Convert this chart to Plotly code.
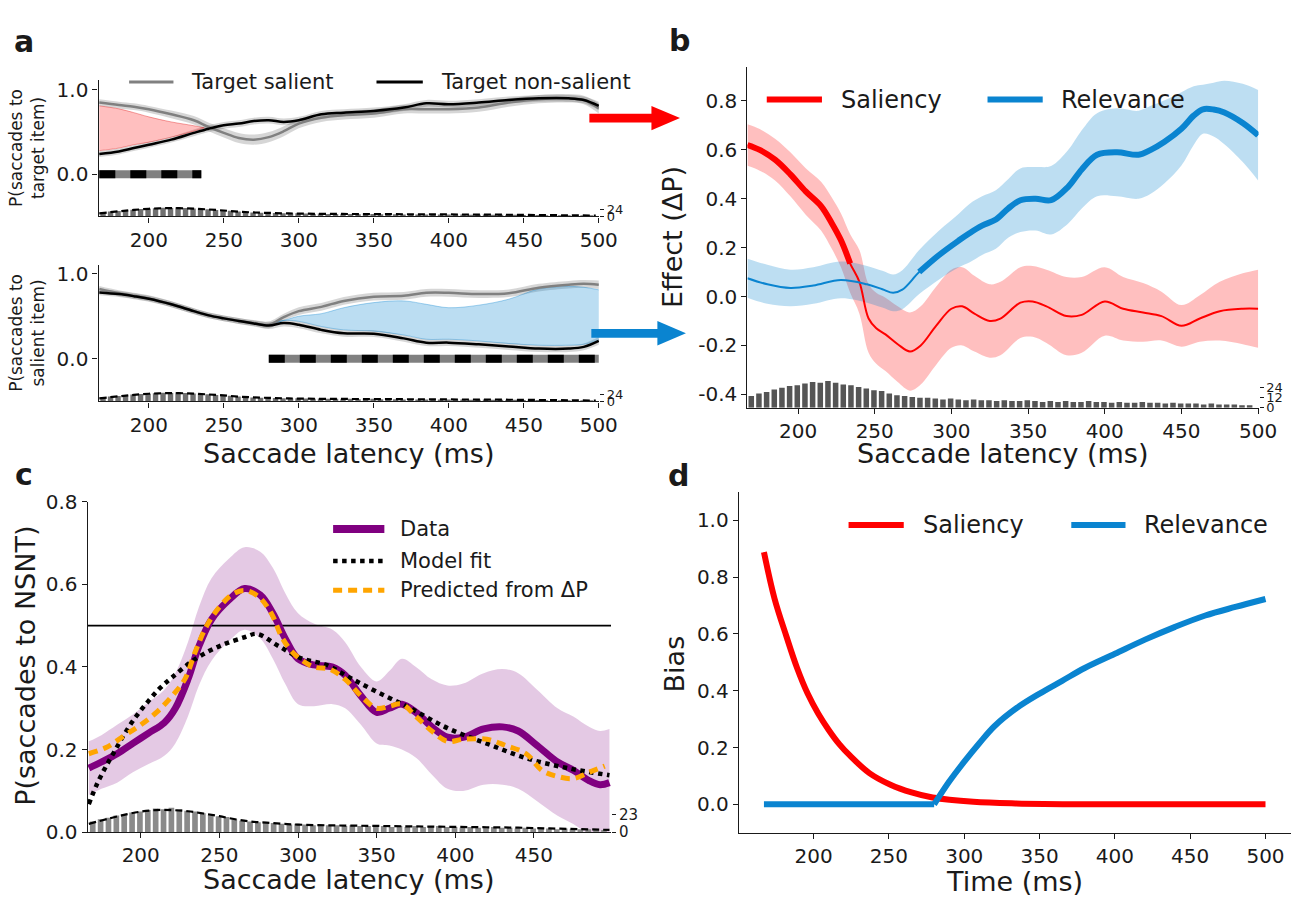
import plotly.graph_objects as go

W, H = 1315, 908
FONT = "DejaVu Sans"
INK = "#1a1a1a"
RED = "#ff0000"
BLUE = "#0a84d0"
PURPLE = "#800080"
ORANGE = "#ffa500"
GREY = "#808080"

# ---------------- Panel a data ----------------
a_x = [167, 180, 190, 200, 215, 230, 240, 250, 260, 270, 280, 290, 300, 315, 330, 350, 370, 385, 400, 420, 440, 460, 480, 490, 500]
a_top_salient = [0.85, 0.82, 0.80, 0.77, 0.71, 0.64, 0.56, 0.49, 0.43, 0.41, 0.44, 0.51, 0.60, 0.67, 0.70, 0.72, 0.77, 0.77, 0.77, 0.79, 0.85, 0.89, 0.90, 0.88, 0.78]
a_top_salient_ci = [0.04, 0.04, 0.04, 0.04, 0.045, 0.05, 0.05, 0.055, 0.06, 0.06, 0.06, 0.06, 0.055, 0.05, 0.05, 0.05, 0.05, 0.05, 0.05, 0.05, 0.05, 0.05, 0.05, 0.05, 0.06]
a_top_nonsal = [0.24, 0.27, 0.31, 0.35, 0.41, 0.49, 0.54, 0.58, 0.60, 0.63, 0.64, 0.62, 0.64, 0.71, 0.73, 0.75, 0.79, 0.84, 0.83, 0.85, 0.88, 0.90, 0.90, 0.88, 0.81]
a_top_nonsal_ci = [0.035, 0.035, 0.035, 0.035, 0.035, 0.04, 0.04, 0.04, 0.04, 0.04, 0.04, 0.04, 0.04, 0.04, 0.04, 0.04, 0.04, 0.04, 0.04, 0.04, 0.04, 0.04, 0.04, 0.04, 0.05]
a_top_fill_x = [167, 180, 190, 200, 215, 230, 237]
a_top_fill_hi = [0.81, 0.775, 0.73, 0.68, 0.62, 0.575, 0.55]
a_top_fill_lo = [0.28, 0.31, 0.35, 0.38, 0.44, 0.51, 0.55]
a_top_sig = [167, 235]

a_bot_salient = [0.82, 0.77, 0.74, 0.71, 0.64, 0.56, 0.51, 0.475, 0.445, 0.42, 0.40, 0.49, 0.56, 0.61, 0.68, 0.73, 0.74, 0.775, 0.775, 0.76, 0.77, 0.835, 0.87, 0.88, 0.87]
a_bot_salient_ci = [0.035, 0.035, 0.035, 0.035, 0.035, 0.035, 0.035, 0.035, 0.035, 0.035, 0.04, 0.04, 0.045, 0.045, 0.045, 0.045, 0.045, 0.045, 0.045, 0.045, 0.045, 0.045, 0.045, 0.045, 0.05]
a_bot_nonsal = [0.78, 0.76, 0.735, 0.705, 0.64, 0.56, 0.51, 0.475, 0.445, 0.415, 0.39, 0.42, 0.40, 0.34, 0.30, 0.295, 0.24, 0.19, 0.19, 0.17, 0.145, 0.12, 0.12, 0.14, 0.21]
a_bot_nonsal_ci = [0.035, 0.035, 0.035, 0.035, 0.035, 0.035, 0.035, 0.035, 0.035, 0.035, 0.04, 0.04, 0.04, 0.04, 0.04, 0.04, 0.04, 0.04, 0.04, 0.04, 0.04, 0.04, 0.04, 0.04, 0.045]
a_bot_fill_x = [280, 290, 300, 315, 330, 350, 370, 385, 400, 420, 440, 460, 480, 490, 500]
a_bot_fill_hi = [0.40, 0.45, 0.50, 0.53, 0.60, 0.66, 0.68, 0.64, 0.60, 0.63, 0.70, 0.82, 0.85, 0.84, 0.81]
a_bot_fill_lo = [0.40, 0.45, 0.44, 0.38, 0.34, 0.325, 0.28, 0.23, 0.23, 0.21, 0.18, 0.16, 0.16, 0.17, 0.22]
a_bot_sig = [280, 500]

# saccade latency histogram (5 ms bins from 167 ms) and its smoothed density
hist_start = 167
hist_bin = 5
hist_counts = [14, 17, 19, 22, 24, 26, 27, 29, 31, 30,
               32, 30, 28, 27, 25, 23, 21, 20, 17, 15,
               14, 13, 12, 12, 11, 10, 11, 10, 9, 10,
               9, 9, 8, 9, 8, 8, 9, 8, 7, 8,
               7, 8, 7, 7, 8, 7, 7, 6, 7, 6,
               6, 7, 6, 6, 5, 6, 5, 5, 5, 4,
               5, 4, 4, 4, 3, 3]
kde_x = [167, 180, 190, 200, 210, 220, 230, 240, 250, 260, 270, 280, 290, 300, 320, 340, 360, 380, 400, 420, 440, 460, 480, 498]
kde_y = [11, 18, 23, 27, 29, 29, 27.5, 24.5, 21, 17, 14, 12.5, 11, 10, 9, 8.5, 8, 7.5, 7, 6.5, 6, 5, 4, 3]

# ---------------- Panel b data ----------------
b_sal_x = [167, 175, 185, 195, 205, 215, 222, 228, 234, 240, 246, 251, 257, 265, 273, 280, 290, 300, 307, 315, 325, 332, 345, 353, 362, 375, 385, 400, 412, 425, 437, 450, 462, 475, 490, 500]
b_sal = [0.62, 0.60, 0.56, 0.50, 0.43, 0.37, 0.30, 0.23, 0.135, 0.06, -0.09, -0.13, -0.155, -0.195, -0.225, -0.20, -0.12, -0.05, -0.04, -0.07, -0.10, -0.09, -0.025, -0.02, -0.04, -0.08, -0.075, -0.02, -0.05, -0.065, -0.08, -0.12, -0.09, -0.06, -0.05, -0.05]
b_sal_ci = [0.085, 0.085, 0.085, 0.09, 0.095, 0.10, 0.105, 0.11, 0.12, 0.13, 0.14, 0.145, 0.15, 0.155, 0.16, 0.16, 0.16, 0.16, 0.16, 0.155, 0.15, 0.15, 0.145, 0.145, 0.15, 0.16, 0.155, 0.14, 0.13, 0.12, 0.10, 0.085, 0.095, 0.12, 0.145, 0.16]
b_sal_sig_end = 234
b_rel_x = [167, 180, 195, 210, 228, 245, 255, 262, 268, 279, 292, 305, 312, 320, 329, 337, 345, 355, 365, 376, 385, 395, 408, 422, 430, 439, 450, 458, 464, 471, 478, 490, 500]
b_rel = [0.075, 0.05, 0.035, 0.045, 0.068, 0.05, 0.03, 0.015, 0.028, 0.10, 0.17, 0.23, 0.26, 0.29, 0.315, 0.36, 0.394, 0.40, 0.394, 0.448, 0.52, 0.58, 0.59, 0.58, 0.60, 0.633, 0.686, 0.74, 0.766, 0.765, 0.753, 0.71, 0.66]
b_rel_ci = [0.08, 0.08, 0.075, 0.075, 0.075, 0.075, 0.075, 0.075, 0.08, 0.09, 0.10, 0.11, 0.12, 0.12, 0.12, 0.12, 0.13, 0.13, 0.14, 0.15, 0.16, 0.17, 0.18, 0.18, 0.18, 0.17, 0.15, 0.12, 0.10, 0.11, 0.13, 0.16, 0.185]
b_rel_sig_start = 279

# ---------------- Panel c data ----------------
c_x = [167, 175, 185, 195, 205, 215, 222, 230, 237, 245, 256, 266, 276, 284, 292, 300, 310, 322, 330, 340, 350, 358, 366, 375, 385, 395, 405, 418, 430, 440, 452, 465, 475, 485, 492, 498]
c_data = [0.155, 0.17, 0.19, 0.215, 0.24, 0.265, 0.30, 0.37, 0.45, 0.515, 0.562, 0.59, 0.574, 0.53, 0.468, 0.42, 0.405, 0.40, 0.38, 0.33, 0.29, 0.30, 0.31, 0.29, 0.255, 0.23, 0.23, 0.25, 0.255, 0.245, 0.21, 0.17, 0.15, 0.125, 0.115, 0.12]
c_data_ci = [0.065, 0.065, 0.07, 0.07, 0.075, 0.08, 0.085, 0.09, 0.095, 0.10, 0.10, 0.10, 0.105, 0.11, 0.11, 0.11, 0.10, 0.09, 0.08, 0.07, 0.075, 0.09, 0.11, 0.11, 0.115, 0.125, 0.13, 0.135, 0.14, 0.14, 0.135, 0.13, 0.13, 0.13, 0.13, 0.13]
c_model_x = [167, 172, 178, 184, 190, 197, 205, 212, 220, 235, 251, 266, 274, 287, 302, 318, 333, 350, 370, 395, 421, 447, 473, 498]
c_model = [0.068, 0.115, 0.16, 0.20, 0.24, 0.28, 0.318, 0.348, 0.375, 0.42, 0.452, 0.472, 0.48, 0.452, 0.421, 0.405, 0.374, 0.34, 0.303, 0.252, 0.213, 0.177, 0.154, 0.138]
c_pred_x = [167, 178, 190, 200, 210, 220, 228, 235, 242, 250, 258, 266, 275, 283, 290, 298, 310, 320, 330, 340, 350, 358, 366, 375, 385, 395, 405, 420, 432, 445, 455, 465, 475, 485, 495]
c_pred = [0.19, 0.205, 0.235, 0.26, 0.29, 0.33, 0.37, 0.44, 0.50, 0.545, 0.575, 0.585, 0.57, 0.53, 0.47, 0.43, 0.40, 0.395, 0.37, 0.33, 0.30, 0.305, 0.31, 0.28, 0.245, 0.22, 0.225, 0.225, 0.21, 0.19, 0.15, 0.135, 0.13, 0.145, 0.16]
c_chance = 0.5

# ---------------- Panel d data ----------------
d_sal_x = [167, 174, 182, 189, 196, 203, 210, 217, 224, 237, 251, 265, 279, 306, 334, 380, 440, 500]
d_sal = [0.888, 0.725, 0.59, 0.48, 0.39, 0.32, 0.262, 0.212, 0.172, 0.11, 0.069, 0.042, 0.024, 0.009, 0.003, 0.0, 0.0, 0.0]
d_rel_x = [167, 280, 290, 300, 310, 320, 335, 350, 365, 380, 400, 420, 440, 460, 480, 500]
d_rel = [0.0, 0.0, 0.08, 0.15, 0.215, 0.275, 0.34, 0.39, 0.435, 0.48, 0.53, 0.58, 0.625, 0.665, 0.695, 0.723]
d_rel_onset = 280

# ---------------- axis ranges ----------------
ax_a_range = [166.5, 500.3]
ax_b_range = [167, 500.3]
ax_c_range = [166.3, 499]
ax_d_range = [150.35, 516.65]

fig = go.Figure()


def add_line(x, y, xa, ya, color, width, dash=None, shape="spline", smoothing=1.0):
    fig.add_trace(go.Scatter(x=x, y=y, xaxis=xa, yaxis=ya, mode="lines",
                             line=dict(color=color, width=width, dash=dash, shape=shape, smoothing=smoothing),
                             showlegend=False, hoverinfo="skip"))


def add_band(x, lo, hi, xa, ya, fillcolor, edge=None, shape="spline"):
    ew = 1 if edge else 0
    ec = edge if edge else "rgba(0,0,0,0)"
    fig.add_trace(go.Scatter(x=x, y=lo, xaxis=xa, yaxis=ya, mode="lines",
                             line=dict(color=ec, width=ew, shape=shape), showlegend=False, hoverinfo="skip"))
    fig.add_trace(go.Scatter(x=x, y=hi, xaxis=xa, yaxis=ya, mode="lines", fill="tonexty",
                             fillcolor=fillcolor, line=dict(color=ec, width=ew, shape=shape),
                             showlegend=False, hoverinfo="skip"))


def minus(a, b):
    return [u - v for u, v in zip(a, b)]


def plus(a, b):
    return [u + v for u, v in zip(a, b)]


hist_centers = [hist_start + hist_bin * (i + 0.5) for i in range(len(hist_counts))]


def add_hist(xa, ya, color, kde=True):
    fig.add_trace(go.Bar(x=hist_centers, y=hist_counts, width=hist_bin * 0.72, xaxis=xa, yaxis=ya,
                         marker=dict(color=color, line=dict(width=0)), showlegend=False, hoverinfo="skip"))
    if kde:
        add_line(kde_x, kde_y, xa, ya, "black", 2.2, dash="7px,4px")


# ---- Panel a top ----
add_band(a_x, minus(a_top_salient, a_top_salient_ci), plus(a_top_salient, a_top_salient_ci), "x", "y", "rgba(0,0,0,0.16)")
add_band(a_x, minus(a_top_nonsal, a_top_nonsal_ci), plus(a_top_nonsal, a_top_nonsal_ci), "x", "y", "rgba(0,0,0,0.16)")
add_band(a_top_fill_x, a_top_fill_lo, a_top_fill_hi, "x", "y", "rgba(255,0,0,0.25)", edge="rgba(220,0,0,0.35)")
add_line(a_x, a_top_salient, "x", "y", GREY, 2.5)
add_line(a_x, a_top_nonsal, "x", "y", "black", 2.5)
add_line(a_top_sig, [0, 0], "x", "y", "#808080", 8, shape="linear")
add_line(a_top_sig, [0, 0], "x", "y", "black", 8, dash="16px,15px", shape="linear")
add_hist("x", "y2", "#707070")

# ---- Panel a bottom ----
add_band(a_x, minus(a_bot_salient, a_bot_salient_ci), plus(a_bot_salient, a_bot_salient_ci), "x2", "y3", "rgba(0,0,0,0.16)")
add_band(a_x, minus(a_bot_nonsal, a_bot_nonsal_ci), plus(a_bot_nonsal, a_bot_nonsal_ci), "x2", "y3", "rgba(0,0,0,0.16)")
add_band(a_bot_fill_x, a_bot_fill_lo, a_bot_fill_hi, "x2", "y3", "rgba(10,132,208,0.28)", edge="rgba(10,132,208,0.35)")
add_line(a_x, a_bot_salient, "x2", "y3", GREY, 2.5)
add_line(a_x, a_bot_nonsal, "x2", "y3", "black", 2.5)
add_line(a_bot_sig, [0, 0], "x2", "y3", "#808080", 8, shape="linear")
add_line(a_bot_sig, [0, 0], "x2", "y3", "black", 8, dash="16px,15px", shape="linear")
add_hist("x2", "y4", "#707070")

# ---- Panel b ----
add_hist("x3", "y6", "#555555", kde=False)
add_band(b_sal_x, minus(b_sal, b_sal_ci), plus(b_sal, b_sal_ci), "x3", "y5", "rgba(255,0,0,0.25)")
add_band(b_rel_x, minus(b_rel, b_rel_ci), plus(b_rel, b_rel_ci), "x3", "y5", "rgba(10,132,208,0.27)")
add_line(b_sal_x, b_sal, "x3", "y5", RED, 2)
add_line(b_rel_x, b_rel, "x3", "y5", BLUE, 2)
sal_sig = [(x, y) for x, y in zip(b_sal_x, b_sal) if x <= b_sal_sig_end]
rel_sig = [(x, y) for x, y in zip(b_rel_x, b_rel) if x >= b_rel_sig_start]
add_line([p[0] for p in sal_sig], [p[1] for p in sal_sig], "x3", "y5", RED, 6)
add_line([p[0] for p in rel_sig], [p[1] for p in rel_sig], "x3", "y5", BLUE, 6)

# ---- Panel c ----
add_band(c_x, minus(c_data, c_data_ci), plus(c_data, c_data_ci), "x4", "y7", "rgba(128,0,128,0.21)")
add_line(ax_c_range, [c_chance, c_chance], "x4", "y7", "black", 1.6, shape="linear")
add_line(c_x, c_data, "x4", "y7", PURPLE, 7)
add_line(c_model_x, c_model, "x4", "y7", "black", 4.5, dash="dot")
add_line(c_pred_x, c_pred, "x4", "y7", ORANGE, 5, dash="9px,6px")
add_hist("x4", "y8", "#8a8a8a")

# ---- Panel d ----
add_line(d_sal_x, d_sal, "x5", "y9", RED, 6, smoothing=1.0)
rel_flat = [(x, y) for x, y in zip(d_rel_x, d_rel) if x <= d_rel_onset]
rel_rise = [(x, y) for x, y in zip(d_rel_x, d_rel) if x >= d_rel_onset]
add_line([p[0] for p in rel_flat], [p[1] for p in rel_flat], "x5", "y9", BLUE, 6, shape="linear")
add_line([p[0] for p in rel_rise], [p[1] for p in rel_rise], "x5", "y9", BLUE, 6, smoothing=1.0)


# ---------------- axes ----------------
def xdom(a, b):
    return [a / W, b / W]


def ydom(top, bottom):
    return [1 - bottom / H, 1 - top / H]


TICKFONT = dict(family=FONT, size=20, color=INK)


def xaxis(dom, rng, tickvals, anchor):
    return dict(domain=dom, range=rng, anchor=anchor, tickmode="array", tickvals=tickvals,
                ticktext=[str(v) for v in tickvals], ticks="outside", ticklen=5, tickwidth=1.2,
                tickcolor=INK, showline=True, linecolor=INK, linewidth=1.3, showgrid=False,
                zeroline=False, tickfont=TICKFONT, fixedrange=True)


def yaxis(dom, rng, tickvals, ticktext, anchor):
    return dict(domain=dom, range=rng, anchor=anchor, tickmode="array", tickvals=tickvals,
                ticktext=ticktext, ticks="outside", ticklen=5, tickwidth=1.2, tickcolor=INK,
                showline=True, linecolor=INK, linewidth=1.3, showgrid=False, zeroline=False,
                tickfont=TICKFONT, fixedrange=True)


def haxis(over, anchor, rng, tickvals, size):
    return dict(overlaying=over, anchor=anchor, side="right", range=rng, tickmode="array",
                tickvals=tickvals, ticktext=[str(v) for v in tickvals], ticks="outside", ticklen=4,
                tickwidth=1, tickcolor=INK, showline=False, showgrid=False, zeroline=False,
                tickfont=dict(family=FONT, size=size, color=INK), fixedrange=True)


a_ticks = [200, 250, 300, 350, 400, 450, 500]
c_ticks = [200, 250, 300, 350, 400, 450]
b_yt = [-0.4, -0.2, 0.0, 0.2, 0.4, 0.6, 0.8]
c_yt = [0.0, 0.2, 0.4, 0.6, 0.8]
d_yt = [0.0, 0.2, 0.4, 0.6, 0.8, 1.0]


def fmt(vals):
    return ["%.1f" % v for v in vals]


layout = dict(
    width=W, height=H, margin=dict(l=0, r=0, t=0, b=0),
    paper_bgcolor="white", plot_bgcolor="white", showlegend=False, barmode="overlay",
    font=dict(family=FONT, color=INK),
    xaxis=xaxis(xdom(100, 608), ax_a_range, a_ticks, "y"),
    yaxis=yaxis(ydom(70, 210), [-0.5, 1.115], [0, 1], ["0.0", "1.0"], "x"),
    yaxis2=haxis("y", "x", [0, 480], [0, 24], 13),
    xaxis2=xaxis(xdom(100, 608), ax_a_range, a_ticks, "y3"),
    yaxis3=yaxis(ydom(260, 400), [-0.5, 1.1], [0, 1], ["0.0", "1.0"], "x2"),
    yaxis4=haxis("y3", "x2", [0, 480], [0, 24], 13),
    xaxis3=xaxis(xdom(758.4, 1277), ax_b_range, a_ticks, "y5"),
    yaxis5=yaxis(ydom(57, 406.5), [-0.455, 0.937], b_yt, fmt(b_yt), "x3"),
    yaxis6=haxis("y5", "x3", [0, 408], [0, 12, 24], 13),
    xaxis4=xaxis(xdom(89, 620), ax_c_range, c_ticks, "y7"),
    yaxis7=yaxis(ydom(503, 842.5), [0, 0.8], c_yt, fmt(c_yt), "x4"),
    yaxis8=haxis("y7", "x4", [0, 433], [0, 23], 15),
    xaxis5=xaxis(xdom(749.7, 1309.5), ax_d_range, a_ticks, "y9"),
    yaxis9=yaxis(ydom(493, 843), [-0.1, 1.1], d_yt, fmt(d_yt), "x5"),
)
fig.update_layout(**layout)


# ---------------- annotations / legends / arrows ----------------
def px(x):
    return x / W


def py(y):
    return 1 - y / H


ann = []


def text(x, y, s, size, xanchor="left", angle=0, bold=False):
    ann.append(dict(x=px(x), y=py(y), xref="paper", yref="paper", text=("<b>%s</b>" % s) if bold else s,
                    showarrow=False, xanchor=xanchor, yanchor="middle", textangle=angle,
                    font=dict(family=FONT, size=size, color=INK)))


# panel letters
text(24.5, 30, "a", 30, "center", bold=True)
text(689.5, 29, "b", 30, "center", bold=True)
text(24, 475, "c", 30, "center", bold=True)
text(688, 476, "d", 30, "center", bold=True)

# axis titles
text(354, 453, "Saccade latency (ms)", 27, "center")
text(1017, 453, "Saccade latency (ms)", 27, "center")
text(354, 891, "Saccade latency (ms)", 27, "center")
text(1029, 893, "Time (ms)", 27, "center")
text(28, 140, "P(saccades to<br>target item)", 17, "center", angle=-90)
text(28, 330, "P(saccades to<br>salient item)", 17, "center", angle=-90)
text(683, 231, "Effect (\u0394P)", 27, "center", angle=-90)
text(26, 672, "P(saccades to NSNT)", 27, "center", angle=-90)
text(684, 670, "Bias", 27, "center", angle=-90)

# legend texts
text(192, 72, "Target salient", 21)
text(445, 72, "Target non-salient", 21)
text(851, 90, "Saliency", 24)
text(1075, 90, "Relevance", 24)
text(404, 531, "Data", 21)
text(404, 564, "Model fit", 21)
text(404, 594, "Predicted from \u0394P", 21)
text(934, 527, "Saliency", 24)
text(1159, 527, "Relevance", 24)

shapes = []


def seg(x0, x1, y, color, width, dash="solid"):
    shapes.append(dict(type="line", xref="paper", yref="paper", x0=px(x0), x1=px(x1), y0=py(y), y1=py(y),
                       line=dict(color=color, width=width, dash=dash)))


seg(131, 176, 72, GREY, 3)
seg(382, 429, 72, "black", 3)
seg(778, 834, 90, RED, 6)
seg(1002, 1058, 90, BLUE, 6)
seg(338, 390, 531, PURPLE, 8)
seg(338, 390, 564, "black", 4.5, "dot")
seg(338, 390, 594, ORANGE, 5, "9px,6px")
seg(861, 917, 527, RED, 6)
seg(1087, 1142, 527, BLUE, 6)


def arrow(x0, x1, yc, color):
    hl = 29
    hw = 12.5
    sw = 4.5
    shapes.append(dict(type="rect", xref="paper", yref="paper", x0=px(x0), x1=px(x1 - hl + 2),
                       y0=py(yc - sw), y1=py(yc + sw), fillcolor=color, line=dict(width=0)))
    path = "M %f %f L %f %f L %f %f Z" % (px(x1 - hl), py(yc - hw), px(x1), py(yc), px(x1 - hl), py(yc + hw))
    shapes.append(dict(type="path", xref="paper", yref="paper", path=path, fillcolor=color, line=dict(width=0)))


arrow(598, 690, 109, RED)
arrow(600, 696, 330, BLUE)

fig.update_layout(annotations=ann, shapes=shapes)
fig.write_html("out.html")
